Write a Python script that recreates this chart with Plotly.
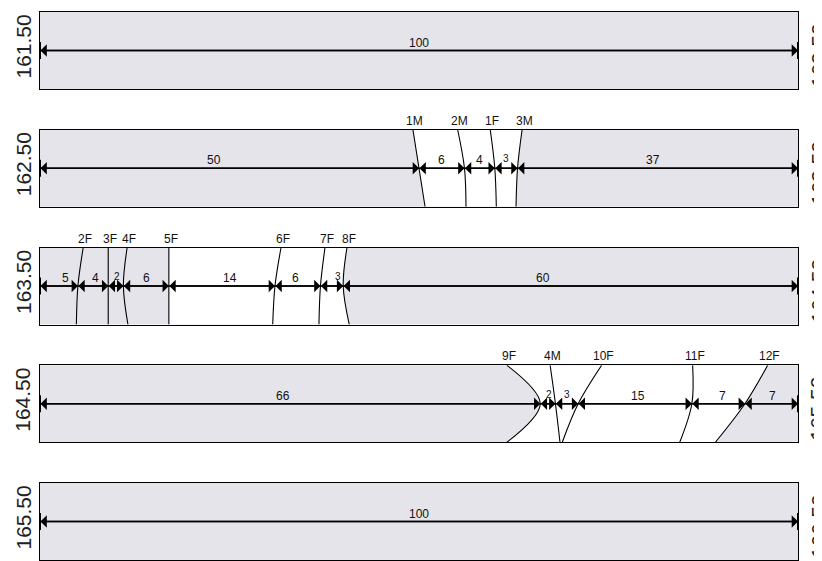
import plotly.graph_objects as go
import itertools

# ---------------- data ----------------
depth_top = ["161.50", "162.50", "163.50", "164.50", "165.50"]
depth_bottom = ["162.50", "163.50", "164.50", "165.50", "166.50"]

# lengths of intact core pieces along each run (%)
segments_1 = [100]
segments_2 = [50, 6, 4, 3, 37]
segments_3 = [5, 4, 2, 6, 14, 6, 3, 60]
segments_4 = [66, 2, 3, 15, 7, 7]
segments_5 = [100]

# fracture names (F = natural fracture, M = mechanical break)
names_2 = ["1M", "2M", "1F", "3M"]
names_3 = ["2F", "3F", "4F", "5F", "6F", "7F", "8F"]
names_4 = ["9F", "4M", "10F", "11F", "12F"]

# fracture trace position where it meets top and bottom of the core image (%)
trace_top_2 = [49.2, 55.1, 59.4, 63.6]
trace_bot_2 = [50.8, 56.2, 60.2, 62.8]
trace_top_3 = [5.7, 9.0, 11.5, 17.0, 31.8, 37.6, 40.5]
trace_bot_3 = [4.8, 9.0, 11.6, 17.0, 30.7, 36.8, 40.8]
trace_top_4 = [61.6, 67.3, 74.1, 86.1, 96.0]
trace_bot_4 = [61.6, 68.6, 68.9, 84.4, 89.1]

rows = [
    dict(seg=segments_1, names=[], top=[], bot=[], clear=None, nudge=[0]),
    dict(seg=segments_2, names=names_2, top=trace_top_2, bot=trace_bot_2, clear=(0, 3),
         nudge=[-2, 0, 0, 0, -0.6]),
    dict(seg=segments_3, names=names_3, top=trace_top_3, bot=trace_bot_3, clear=(3, 6),
         nudge=[0.8, 0.3, 0.2, 0, 1.1, -0.3, 0.8, -3.6]),
    dict(seg=segments_4, names=names_4, top=trace_top_4, bot=trace_bot_4, clear=(0, 4),
         nudge=[-0.9, 0.2, 0, 0.4, 0.6, 0.2]),
    dict(seg=segments_5, names=[], top=[], bot=[], clear=None, nudge=[0]),
]

# ---------------- figure ----------------
# page body has an 8px default margin, so the figure is drawn 8px in from the corner
W, H = 822, 553
MT, MB, ML, MR = 4, 1, 32, 32
PH = H - MT - MB
PITCH, PANEL = 117.75, 77
GRAY = "rgb(229,228,234)"
FONT = "Arial, Liberation Sans, sans-serif"

fig = go.Figure()
layout = dict(
    width=W, height=H, margin=dict(l=ML, r=MR, t=MT, b=MB),
    paper_bgcolor="white", showlegend=False,
    font=dict(family=FONT, color="black"),
)
annotations = []

for i, r in enumerate(rows):
    n = i + 1
    xa = "x" if n == 1 else f"x{n}"
    ya = "y" if n == 1 else f"y{n}"
    top = 1 - (PITCH * i) / PH
    bot = max(0.0, 1 - (PITCH * i + PANEL) / PH)
    axis_common = dict(showgrid=False, zeroline=False, showticklabels=False, ticks="",
                       showline=True, mirror=True, linecolor="black", linewidth=1)
    layout["xaxis" if n == 1 else f"xaxis{n}"] = dict(
        range=[0, 100], domain=[0, 1], anchor=ya, **axis_common)
    layout["yaxis" if n == 1 else f"yaxis{n}"] = dict(
        range=[-1, 1], domain=[bot, top], anchor=xa, **axis_common)

    seg = r["seg"]
    bounds = [0] + list(itertools.accumulate(seg))
    mids = bounds[1:-1]

    # fracture traces (white fill for the broken zone between the bounding traces)
    order = list(range(len(mids)))
    if r["clear"] is not None:
        a, b = r["clear"]
        order = [a, b] + [k for k in order if k not in (a, b)]
    for j, k in enumerate(order):
        fill = "tonextx" if (r["clear"] is not None and j == 1) else "none"
        fig.add_trace(go.Scatter(
            x=[r["top"][k], mids[k], r["bot"][k]], y=[1, 0, -1],
            mode="lines", line=dict(color="black", width=1.1, shape="spline"),
            fill=fill, fillcolor="white", xaxis=xa, yaxis=ya, hoverinfo="skip"))

    # scanline
    fig.add_trace(go.Scatter(x=[bounds[0], bounds[-1]], y=[0, 0], mode="lines",
                             line=dict(color="black", width=1.5), xaxis=xa, yaxis=ya,
                             hoverinfo="skip"))
    fig.add_trace(go.Scatter(x=[bounds[0], bounds[-1]], y=[0, 0], mode="markers",
                             marker=dict(symbol="line-ns", size=12,
                                         line=dict(color="black", width=2)),
                             xaxis=xa, yaxis=ya, hoverinfo="skip"))

    # dimension arrows and labels
    for s in range(len(seg)):
        x0, x1 = bounds[s], bounds[s + 1]
        annotations.append(dict(
            x=x1, y=0, ax=x0, ay=0, xref=xa, yref=ya, axref=xa, ayref=ya,
            text="", showarrow=True, arrowhead=1, startarrowhead=1,
            arrowside="end+start", arrowsize=1.4, startarrowsize=1.4,
            arrowwidth=1.5, arrowcolor="black", standoff=0, startstandoff=0,
            borderpad=0))
        small = seg[s] <= 3
        annotations.append(dict(
            x=(x0 + x1) / 2 + r["nudge"][s], y=0, xref=xa, yref=ya,
            text=str(seg[s]), showarrow=False, xanchor="center", yanchor="bottom",
            yshift=3 if small else 0, borderpad=0,
            font=dict(size=10 if small else 12, color="#111")))

    for k, nm in enumerate(r["names"]):
        annotations.append(dict(
            x=r["top"][k], y=1, xref=xa, yref=ya, text=nm, showarrow=False,
            xanchor="center", yanchor="bottom", xshift=2, yshift=1, borderpad=0,
            font=dict(size=12, color="#111")))

    # depth labels
    annotations.append(dict(
        x=0, y=0, xref="paper", yref=ya, text=depth_top[i], showarrow=False,
        textangle=-90, xanchor="center", yanchor="middle", xshift=-17, yshift=4,
        font=dict(size=21, color="#222")))
    annotations.append(dict(
        x=1, y=0, xref="paper", yref=ya, text=depth_bottom[i], showarrow=False,
        textangle=-90, xanchor="center", yanchor="middle", xshift=20, yshift=-5,
        font=dict(size=21, color="#222")))

layout["annotations"] = annotations
layout["plot_bgcolor"] = GRAY
fig.update_layout(**layout)
fig.write_html("out.html")
